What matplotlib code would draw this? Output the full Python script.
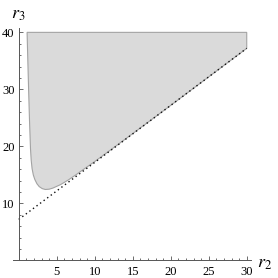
import numpy as np
import matplotlib
matplotlib.use('Agg')
import matplotlib.pyplot as plt
from matplotlib.ticker import FixedLocator

plt.rcParams['font.family'] = 'Liberation Serif'
plt.rcParams['mathtext.fontset'] = 'stix'

# boundary of the shaded region
r2_edge = [1.1, 1.2, 1.3, 1.42, 1.55, 1.64, 1.76, 1.92, 2.12, 2.4, 2.7, 3.1,
           3.5, 4.0, 4.5, 5.5, 6.5, 7.5, 8.5, 10, 12, 15, 20, 25, 30]
r3_edge = [40, 35, 30, 24.5, 19.6, 17.6, 16.1, 15.0, 14.2, 13.45, 12.95, 12.6,
           12.45, 12.5, 12.7, 13.3, 14.1, 15.0, 15.95, 17.35, 19.3, 22.25,
           27.2, 32.2, 37.2]
r3_top = 40

# dotted asymptote
r2_line = [0, 30]
r3_line = [7.2, 37.2]

x_major = [5, 10, 15, 20, 25, 30]
y_major = [10, 20, 30, 40]

fig = plt.figure(figsize=(2.78, 2.78), dpi=100)
ax = fig.add_axes([0.0482, 0.063, 0.853, 0.837])

poly_x = r2_edge + [30, r2_edge[0]]
poly_y = r3_edge + [r3_top, r3_top]
ax.fill(poly_x, poly_y, facecolor='#dadada', edgecolor='#a3a3a3', lw=0.8, zorder=1)
ax.plot(r2_line, r3_line, color='#111111', lw=1.0, linestyle=(0, (1, 2.2)), zorder=2)

ax.set_xlim(-0.7, 30.5)
ax.set_ylim(0, 40.8)

for s in ['top', 'right']:
    ax.spines[s].set_visible(False)
ax.spines['left'].set_position(('data', 0))
ax.spines['bottom'].set_position(('data', 0))
for s in ['left', 'bottom']:
    ax.spines[s].set_color('#555555')
    ax.spines[s].set_linewidth(0.7)

ax.xaxis.set_major_locator(FixedLocator(x_major))
ax.xaxis.set_minor_locator(FixedLocator([i for i in range(1, 31) if i % 5]))
ax.yaxis.set_major_locator(FixedLocator(y_major))
ax.yaxis.set_minor_locator(FixedLocator([i for i in range(2, 41, 2) if i % 10]))

ax.tick_params(which='both', direction='in', color='#555555', width=0.6, labelsize=9)
ax.tick_params(which='major', length=3)
ax.tick_params(which='minor', length=1.6)
ax.tick_params(axis='x', pad=4)
ax.tick_params(axis='y', pad=3)

fig.text(18 / 278, 1 - 14 / 278, r'$r_3$', fontsize=13, ha='center', va='center')
fig.text(265 / 278, 1 - 264 / 278, r'$r_2$', fontsize=13, ha='center', va='center')

fig.savefig('out.png', dpi=100)
